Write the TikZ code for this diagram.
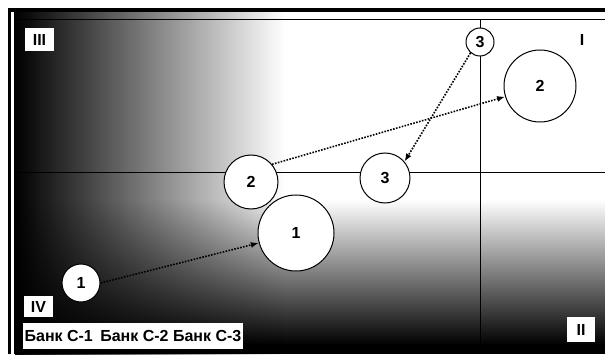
\documentclass[tikz,border=0pt]{standalone}
\usepackage{fontspec}
\setmainfont{Liberation Sans}
\usetikzlibrary{fadings,arrows.meta}
\tikzfading[name=fade up, top color=transparent!100, bottom color=transparent!0]

\begin{document}
\begin{tikzpicture}[x=1pt, y=1pt]
\tikzset{ >={Latex[length=8pt,width=6pt]}, inner sep=0pt,
  bank/.style={draw, circle, fill=white, line width=1pt, font=\bfseries\fontsize{16}{16}\selectfont},
  quad/.style={fill=white, font=\bfseries\fontsize{16}{16}\selectfont},
  move/.style={->, dash pattern=on 1.6pt off 1.4pt, line width=1.6pt},
}

\useasboundingbox (0,0) rectangle (605,354);

% background
\fill [white] (0,0) rectangle (605,354);
\shade [left color=black, right color=white] (15,0) rectangle (285,342);
\fill [black, path fading=fade up] (15,9) rectangle (605,154);
\fill [black] (15,0) rectangle (605,9);

% frame
\draw [line width=3.5pt] (9.5,0) -- (9.5,344) -- (605,344);
\fill [white] (11.3,0) rectangle (13.3,342);
\draw [line width=1.5pt] (14.3,0) -- (14.3,342);
\draw [line width=0.9pt] (15,335) -- (605,335);

% axes
\draw [line width=0.9pt] (15,182) -- (605,182);
\draw [line width=0.9pt] (480,9) -- (480,335);

\node [quad, minimum width=29pt, minimum height=23pt] (III) at (39.5,314.5) {III};
\node [quad, minimum width=29pt, minimum height=21pt] (IV)  at (38.5,47.5) {IV};
\node [quad, minimum width=28pt, minimum height=25pt] (II)  at (581,24.5) {II};
\node [quad, minimum width=12pt, minimum height=18pt] (I)   at (582,314) {I};

\node [quad, minimum width=220pt, minimum height=26pt] (key) at (133,18)
  {Банк С-1\hspace{3pt} Банк С-2 Банк С-3};

\node [bank, minimum size=38pt] (c1a) at (81,71)   {1};
\node [bank, minimum size=76pt] (c1b) at (296,121) {1};
\node [bank, minimum size=54pt] (c2a) at (251,172) {2};
\node [bank, minimum size=72pt] (c2b) at (540,268) {2};
\node [bank, minimum size=28pt] (c3a) at (480,312) {3};
\node [bank, minimum size=50pt] (c3b) at (385,176) {3};

\draw [move] (c1a.0)   -- (c1b.195);
\draw [move] (c2a.40)  -- (c2b.197);
\draw [move] (c3a.229) -- (c3b.40);

\end{tikzpicture}
\end{document}
